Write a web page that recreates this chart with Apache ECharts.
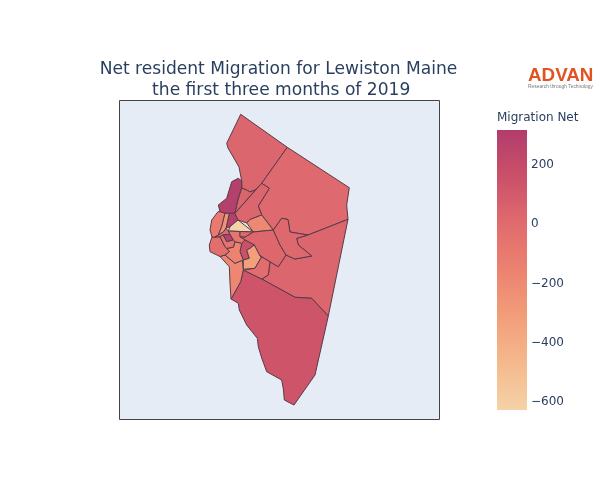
<!DOCTYPE html>
<html>
<head>
<meta charset="utf-8">
<title>Lewiston migration</title>
<style>
html, body { margin: 0; padding: 0; background: #fff; }
#main { width: 600px; height: 500px; }
</style>
<script src="https://cdn.jsdelivr.net/npm/echarts@6/dist/echarts.min.js"></script>
</head>
<body>
<div id="main"></div>
<script>
// census tracts, values estimated from the colour of each area
var tractNames = ['north', 'east', 'southeast', 'south', 'river', 'riverTail', 'millA', 'millB',
	'beige', 'canal', 'middle', 'loop', 'pink', 'sand', 'lower', 'southwest', 'center', 'coast',
	'upperCoast', 'sliver', 'park', 'dark', 'westBlock', 'core', 'midBlock'];
var tractValues = [25, 10, 25, 130, 290, 290, 30, 25,
	-634, -200, 20, 15, 150, -330, -20, -190, -160, -30,
	-110, -260, 0, 280, -60, -70, 10];

// outlines, one ring of [x, y] per tract
var tractOutlines = [
	[[240.7,114.3],[287.3,147.3],[261.7,183.3],[258,187],[255,190],[250,192],[246.7,190],[241.7,188],[241.7,181],[239,167],[228,148],[226.7,143.3]],
	[[287.3,147.3],[349.3,187.7],[346.7,205],[348,219.3],[308,235],[290,232],[288,219.5],[281.7,218.3],[273.3,230],[261.7,215],[258.3,206],[269.3,188.3],[261.7,183.3]],
	[[348,219.3],[328.3,316],[311.7,298.3],[295,297.3],[261.7,279],[268.3,275],[270,261.7],[278.3,266.7],[286,255],[295,259],[311.7,256],[298.3,245],[296.7,238.3],[308,235]],
	[[231,299],[240.7,281.7],[243.3,270],[261.7,279],[295,297.3],[311.7,298.3],[328.3,316],[315,375],[294,405],[284.3,400],[283.5,390],[281.7,380],[266.7,371.7],[261.7,358],[258.3,346.7],[257.3,338.3],[246.7,325],[239.3,310],[238.3,303.3]],
	[[231.7,181.7],[238.3,178.3],[241.7,181],[241.7,188],[238,200],[235,213.3],[229.3,213.3],[225,213.3],[220,211.7],[218.3,205],[226.7,198.3]],
	[[229.3,213.3],[235,213.3],[238,220],[230,226.7],[226,228.3]],
	[[241.7,188],[246.7,190],[250,192],[255,190],[258,187],[235,213.3],[238,200]],
	[[261.7,183.3],[269.3,188.3],[258.3,206],[261.7,215],[250,219.5],[246.7,223],[238,220],[235,213.3]],
	[[238,220],[253.3,232],[228.3,231],[230,226.7]],
	[[246.7,223],[250,219.5],[261.7,215],[273.3,230],[253.3,232]],
	[[253.3,232],[273.3,230],[280,245],[286,255],[278.3,266.7],[260,256],[254.3,245],[245,240],[240,236.7],[245,237]],
	[[273.3,230],[281.7,218.3],[288,219.5],[290,232],[308,235],[296.7,238.3],[298.3,245],[311.7,256],[295,259],[286,255],[280,245]],
	[[241.7,243.3],[245,240],[254.3,245],[250,248.3],[246.7,250],[249.3,258.3],[243.3,260],[240,251.7]],
	[[250,248.3],[254.3,245],[260,256],[261.7,256.7],[255,268.3],[243.3,269.3],[243.3,260],[249.3,258.3],[246.7,250]],
	[[260,256],[270,261.7],[268.3,275],[261.7,279],[243.3,270],[255,268.3],[261.7,256.7]],
	[[220,256.5],[225,255],[235,263.3],[242.3,260],[243.3,270],[240.7,281.7],[231,299],[230,283],[229.3,266.7]],
	[[225,255],[229.3,251.7],[226.7,248.3],[233.3,247.3],[235,241.7],[241.7,243.3],[240,251.7],[243.3,260],[242.3,260],[235,263.3]],
	[[215,237],[212,237],[209.3,245],[210,251.7],[220,256.5],[225,255],[229.3,251.7],[226.7,248.3],[225,246.7],[221.7,240],[220,236.7]],
	[[218,211.7],[220,211.7],[225,213.3],[221.7,226.7],[218.3,235],[215,237],[212,237],[210,230],[211.7,220]],
	[[225,213.3],[229.3,213.3],[226,228.3],[223.3,232],[218.3,235],[221.7,226.7]],
	[[218.3,235],[223.3,232],[226,228.3],[228.3,231],[230,234.3],[223,235],[220,236.7],[215,237]],
	[[223,235],[230,234.3],[233.3,240],[226.7,241.7]],
	[[220,236.7],[223,235],[226.7,241.7],[233.3,240],[235,241.7],[233.3,247.3],[226.7,248.3],[225,246.7],[221.7,240]],
	[[228.3,231],[240,231.5],[240,236.7],[245,240],[241.7,243.3],[235,241.7],[233.3,240],[230,234.3]],
	[[240,231.5],[253.3,232],[245,237],[240,236.7]]
];

var migrationMin = -634, migrationMax = 311;
var colorTicks = [-600, -400, -200, 0, 200];
var colorStops = ['#f5d2a8', '#f4b98c', '#f29e7a', '#ec8270', '#e06b6e', '#cb5069', '#b13d6c'];

var features = [], seriesData = [];
for (var i = 0; i < tractNames.length; i++) {
	var ring = tractOutlines[i].map(function(p) { return [p[0], -p[1]]; });
	ring.push(ring[0]);
	features.push({
		type: 'Feature',
		properties: { name: tractNames[i] },
		geometry: { type: 'Polygon', coordinates: [ring] }
	});
	seriesData.push({ name: tractNames[i], value: tractValues[i] });
}
echarts.registerMap('lewiston', { type: 'FeatureCollection', features: features });

// colour bar, top of the rect is the highest stop
var barStops = colorStops.map(function(c, n) {
	return { offset: 1 - n / (colorStops.length - 1), color: c };
}).reverse();

var myChart = echarts.init(document.getElementById('main'));
var option = {
	animation: false,
	textStyle: { fontFamily: '"DejaVu Sans", sans-serif' },
	title: [{
		text: 'Net resident Migration for Lewiston Maine\n the first three months of 2019',
		left: 273.5,
		top: 54,
		textAlign: 'center',
		textStyle: { fontFamily: '"DejaVu Sans", sans-serif', fontSize: 17.1, fontWeight: 'normal', color: '#2a3f5f', lineHeight: 21 }
	}, {
		text: 'Migration Net',
		left: 497,
		top: 112,
		padding: 0,
		textStyle: { fontFamily: '"DejaVu Sans", sans-serif', fontSize: 12, fontWeight: 'normal', color: '#2a3f5f' }
	}],
	graphic: [{
		type: 'rect',
		z: -1,
		shape: { x: 119.5, y: 100.5, width: 320, height: 319 },
		style: { fill: '#e5ecf6', stroke: '#444', lineWidth: 1 }
	}, {
		type: 'rect',
		shape: { x: 497, y: 130, width: 30, height: 280 },
		style: { fill: new echarts.graphic.LinearGradient(0, 0, 0, 1, barStops) }
	}, {
		type: 'text',
		x: 528,
		y: 66,
		style: { text: 'ADVAN', font: 'bold 18.8px "Liberation Sans", sans-serif', fill: '#e2531f' }
	}, {
		type: 'text',
		x: 528,
		y: 84,
		style: { text: 'Research through Technology', font: '4.9px "Liberation Sans", sans-serif', fill: '#777' }
	}],
	// this grid only carries the tick labels of the colour bar
	grid: { left: 497, top: 132, width: 30, height: 280 },
	xAxis: { type: 'value', show: false, min: 0, max: 1 },
	yAxis: {
		type: 'value',
		position: 'right',
		min: migrationMin,
		max: migrationMax,
		splitLine: { show: false },
		axisLine: { show: false },
		axisTick: { show: false },
		axisLabel: {
			customValues: colorTicks,
			margin: 4,
			color: '#2a3f5f',
			fontSize: 12,
			formatter: function(v) { return String(v).replace('-', '\u2212'); }
		}
	},
	visualMap: {
		type: 'continuous',
		show: false,
		min: migrationMin,
		max: migrationMax,
		seriesIndex: 0,
		inRange: { color: colorStops }
	},
	series: [{
		type: 'map',
		map: 'lewiston',
		boundingCoords: [[119, -100], [439, -420]],
		left: 119,
		top: 100,
		width: 320,
		height: 320,
		aspectScale: 1,
		roam: false,
		silent: true,
		label: { show: false },
		itemStyle: { borderColor: '#5a3a48', borderWidth: 1 },
		data: seriesData
	}]
};
myChart.setOption(option);
</script>
</body>
</html>
